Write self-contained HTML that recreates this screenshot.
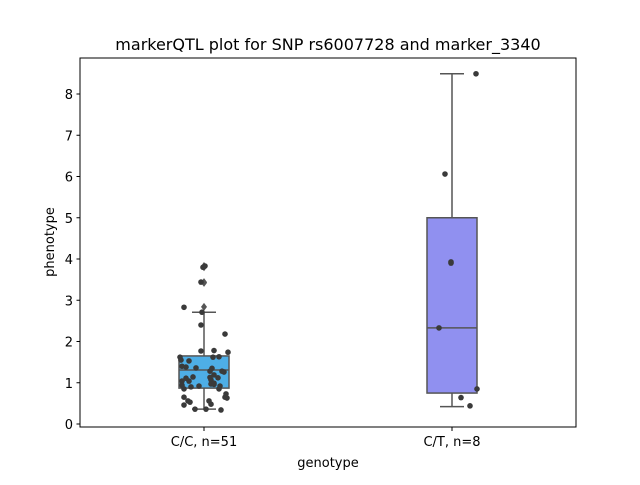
<!DOCTYPE html>
<html><head><meta charset="utf-8"><style>
body{margin:0;background:#fff}
svg text{font-family:"DejaVu Sans","Liberation Sans",sans-serif;fill:#000}
</style></head><body>
<svg id="chart" width="640" height="480" viewBox="0 0 640 480" xmlns="http://www.w3.org/2000/svg">
<rect width="640" height="480" fill="#fff"/>
<text x="328" y="50" font-size="16" text-anchor="middle">markerQTL plot for SNP rs6007728 and marker_3340</text>
<g id="plot"></g>
<rect x="80" y="58" width="496" height="369" fill="none" stroke="#000" stroke-width="1"/>
<text x="328" y="467" font-size="13" text-anchor="middle">genotype</text>
<text transform="translate(54,242) rotate(-90)" font-size="13" text-anchor="middle">phenotype</text>
</svg>
<script>
const categories = ["C/C, n=51", "C/T, n=8"];
const boxColors = ["#4eaee6", "#9090f0"];
const boxStats = [
  {q1:0.87, med:1.31, q3:1.65, lo:0.36, hi:2.71, fliers:[3.83,3.8,3.44,3.42,2.84]},
  {q1:0.75, med:2.33, q3:5.0, lo:0.42, hi:8.49, fliers:[]}
];
const yTicks = [0,1,2,3,4,5,6,7,8];
const g1Vals = [2.83,2.4,2.71,2.18,1.77,1.78,1.74,1.62,1.55,1.53,1.62,1.63,1.40,1.38,1.35,1.36,1.28,1.28,1.26,1.19,1.11,1.14,1.13,1.12,1.04,1.07,0.99,1.04,0.97,0.96,0.94,0.92,0.92,0.9,0.85,0.85,0.65,0.73,0.56,0.65,0.56,0.48,0.46,0.53,0.63,0.36,0.36,0.34,3.83,3.8,3.44];
const g1Jit = [-20,-3,-2,21,-3,10,24,-24,-23,-15,9,15,-22,-18,8,-8,6,18,20,10,-18,-11,6,14,-22,7,10,-15,7,10,-22,-5,16,-13,-20,15,-20,22,-16,21,5,7,-20,-14,23,-9,2,17,1,-1,-3];
const g2Vals = [8.49,6.06,3.93,2.33,0.85,0.64,0.44,3.9];
const g2Jit = [24,-7,-1,-13,25,9,18,-1];
const NS="http://www.w3.org/2000/svg";
const plot=document.getElementById('plot');
const y0=424, ppu=41.25;
function yS(v){return y0 - v*ppu;}
function xS(i){return 204 + i*248;}
function mk(tag,attrs,parent){const e=document.createElementNS(NS,tag);for(const k in attrs)e.setAttribute(k,attrs[k]);(parent||plot).appendChild(e);return e;}
yTicks.forEach(t=>{
  const l=mk('line',{x1:76.5,x2:80,y1:yS(t),y2:yS(t),stroke:'#000'});
  
  
  const tx=mk('text',{x:73,y:yS(t)+5,'font-size':13,'text-anchor':'end'});
  tx.textContent=t;
  
  
});
categories.forEach((c,i)=>{
  const x=xS(i);
  const l=mk('line',{x1:x,x2:x,y1:427,y2:431,stroke:'#000'});
  
  
  const tx=mk('text',{x:x,y:446,'font-size':13,'text-anchor':'middle'});
  tx.textContent=c;
  
  
  const s=boxStats[i], col='#555', w=25;
  const grp=mk('g',{});
  
  
  mk('line',{x1:x,x2:x,y1:yS(s.q3),y2:yS(s.hi),stroke:col,'stroke-width':1.5},grp);
  mk('line',{x1:x,x2:x,y1:yS(s.q1),y2:yS(s.lo),stroke:col,'stroke-width':1.5},grp);
  mk('line',{x1:x-12,x2:x+12,y1:yS(s.hi),y2:yS(s.hi),stroke:col,'stroke-width':1.5},grp);
  mk('line',{x1:x-12,x2:x+12,y1:yS(s.lo),y2:yS(s.lo),stroke:col,'stroke-width':1.5},grp);
  mk('rect',{x:x-w,y:yS(s.q3),width:2*w,height:yS(s.q1)-yS(s.q3),fill:boxColors[i],stroke:col,'stroke-width':1.5},grp);
  mk('line',{x1:x-w,x2:x+w,y1:yS(s.med),y2:yS(s.med),stroke:col,'stroke-width':1.5},grp);
  s.fliers.forEach(f=>{
    const yy=yS(f);
    const d=mk('polygon',{points:`${x},${yy-4} ${x+3},${yy} ${x},${yy+4} ${x-3},${yy}`,fill:'#555'},grp);
    
    
  });
});
[[g1Vals,g1Jit,0],[g2Vals,g2Jit,1]].forEach(([vals,jit,i])=>{
  vals.forEach((v,k)=>{
    const c=mk('circle',{cx:xS(i)+jit[k],cy:yS(v),r:2.8,fill:'#3a3a3a'});
    
    
  });
});
</script>
</body></html>
